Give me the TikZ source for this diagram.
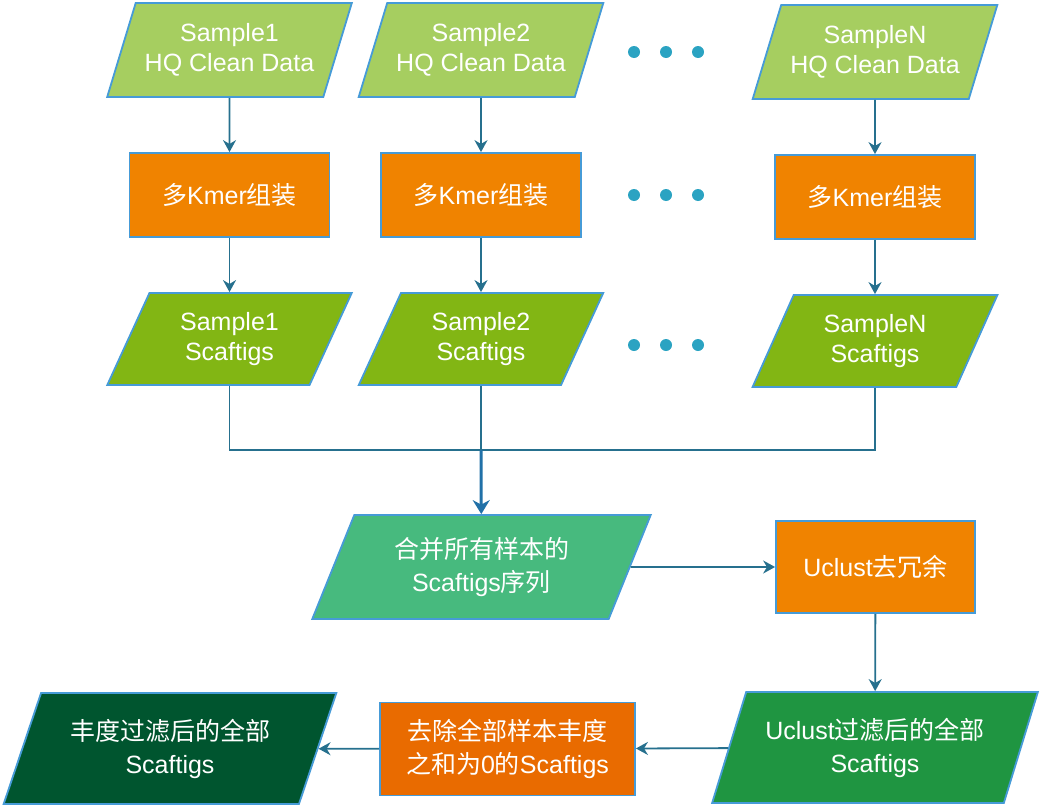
\documentclass[tikz,border=0pt]{standalone}
\usepackage{fontspec}
\setmainfont{Liberation Sans}
\newfontfamily\cjk{Noto Sans CJK SC}
\newcommand{\zh}[1]{{\cjk #1}}
\usetikzlibrary{shapes.geometric,arrows.meta}
\definecolor{edgeblue}{RGB}{70,155,215}
\definecolor{linecol}{RGB}{38,112,142}
\definecolor{bigcol}{RGB}{33,113,168}
\definecolor{dotcol}{RGB}{43,163,194}
\definecolor{rawgreen}{RGB}{166,206,96}
\definecolor{scafgreen}{RGB}{130,182,20}
\definecolor{mergegreen}{RGB}{71,186,126}
\definecolor{ufiltgreen}{RGB}{31,149,65}
\definecolor{finalgreen}{RGB}{0,85,47}
\definecolor{kmerorange}{RGB}{240,131,0}
\definecolor{rmorange}{RGB}{233,107,0}
\tikzset{
	txt/.style={text=white, align=center, font=\fontsize{25}{30}\selectfont},
	zhtxt/.style={text=white, align=center, font=\fontsize{25}{33}\selectfont},
	dataio/.style={trapezium, trapezium left angle=64, trapezium right angle=116, trapezium stretches=true, draw=edgeblue, line width=1.8pt, inner sep=0pt},
	procbox/.style={rectangle, draw=edgeblue, line width=1.8pt, inner sep=0pt},
	flow/.style={draw=linecol, line width=1.8pt, -{Stealth[length=12pt, width=13pt]}},
	link/.style={draw=linecol, line width=1.5pt},
	bigflow/.style={draw=bigcol, line width=3pt, -{Stealth[length=14pt, width=17pt]}},
}
\begin{document}
\begin{tikzpicture}[x=1pt, y=-1pt]
	\useasboundingbox (0,0) rectangle (1041,806);
	\node[dataio, txt, fill=rawgreen, minimum width=245pt, minimum height=94pt] (1) at (229.5,50) {Sample1\\HQ Clean Data};
	\node[dataio, txt, fill=rawgreen, minimum width=245pt, minimum height=94pt] (2) at (481,50) {Sample2\\HQ Clean Data};
	\node[dataio, txt, fill=rawgreen, minimum width=245pt, minimum height=94pt] (3) at (875,52) {SampleN\\HQ Clean Data};
	\node[procbox, txt, fill=kmerorange, minimum width=200pt, minimum height=84pt] (4) at (229.5,195) {\zh{多}Kmer\zh{组装}};
	\node[procbox, txt, fill=kmerorange, minimum width=200pt, minimum height=84pt] (5) at (481,195) {\zh{多}Kmer\zh{组装}};
	\node[procbox, txt, fill=kmerorange, minimum width=200pt, minimum height=84pt] (6) at (875,197) {\zh{多}Kmer\zh{组装}};
	\node[dataio, txt, fill=scafgreen, minimum width=245pt, minimum height=92pt] (7) at (229.5,339) {Sample1\\Scaftigs};
	\node[dataio, txt, fill=scafgreen, minimum width=245pt, minimum height=92pt] (8) at (481,339) {Sample2\\Scaftigs};
	\node[dataio, txt, fill=scafgreen, minimum width=245pt, minimum height=92pt] (9) at (875,341) {SampleN\\Scaftigs};
	\node[dataio, zhtxt, fill=mergegreen, minimum width=339pt, minimum height=104pt] (10) at (481.5,567) {\zh{合并所有样本的}\\Scaftigs\zh{序列}};
	\node[procbox, txt, fill=kmerorange, minimum width=199pt, minimum height=92pt] (11) at (875.5,567) {Uclust\zh{去冗余}};
	\node[dataio, zhtxt, fill=ufiltgreen, minimum width=326pt, minimum height=111pt] (12) at (875,747.5) {Uclust\zh{过滤后的全部}\\Scaftigs};
	\node[procbox, zhtxt, fill=rmorange, minimum width=255pt, minimum height=93pt] (13) at (507.5,749) {\zh{去除全部样本丰度}\\\zh{之和为}0\zh{的}Scaftigs};
	\node[dataio, zhtxt, fill=finalgreen, minimum width=334pt, minimum height=111pt] (14) at (170,748.5) {\zh{丰度过滤后的全部}\\Scaftigs};
	\foreach \y in {52,195,345}
		\foreach \x in {634,666,698}
			\fill[dotcol] (\x,\y) circle (6pt);
	\coordinate (j) at (481,450);
	\draw[flow] (1) -- (4);
	\draw[flow] (2) -- (5);
	\draw[flow] (3) -- (6);
	\draw[flow] (4) -- (7);
	\draw[flow] (5) -- (8);
	\draw[flow] (6) -- (9);
	\draw[link] (7) |- (j);
	\draw[link] (9) |- (j);
	\draw[link] (8) -- (j);
	\draw[bigflow] (j) -- (10);
	\draw[flow] (10) -- (11);
	\draw[flow] (11) -- (12);
	\draw[flow] (12) -- (13);
	\draw[flow] (13) -- (14);
\end{tikzpicture}
\end{document}
